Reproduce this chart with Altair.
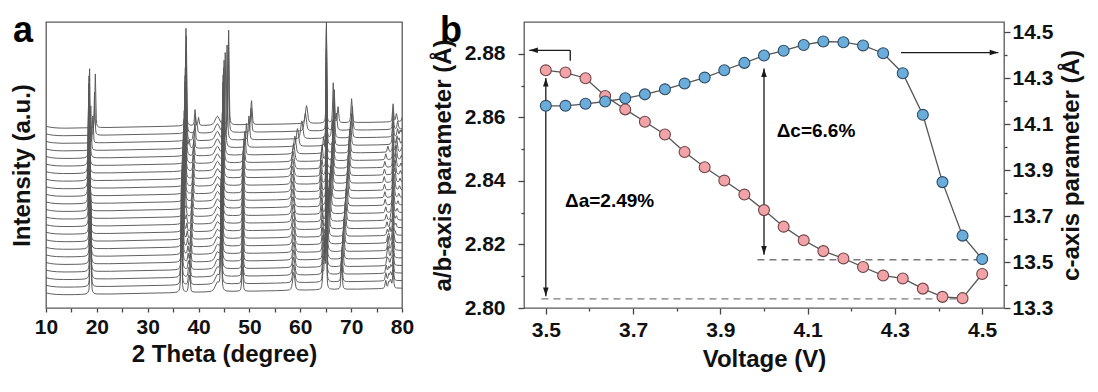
import numpy as np
import pandas as pd
import altair as alt

# ---------------- panel b : lattice parameters vs voltage ----------------
voltage = [3.500, 3.545, 3.591, 3.636, 3.682, 3.727, 3.773, 3.818, 3.864, 3.909, 3.955, 4.000,
           4.045, 4.091, 4.136, 4.182, 4.227, 4.273, 4.318, 4.364, 4.409, 4.455, 4.500]
a_param = [2.8748, 2.8741, 2.8723, 2.8667, 2.8625, 2.8586, 2.8546, 2.8491, 2.8443, 2.8401, 2.8357, 2.8308,
           2.8256, 2.8213, 2.8179, 2.8156, 2.8129, 2.8102, 2.8093, 2.8061, 2.8035, 2.8031, 2.8107]
c_param = [14.180, 14.180, 14.189, 14.199, 14.213, 14.230, 14.252, 14.277, 14.303, 14.335, 14.367, 14.399,
           14.420, 14.445, 14.460, 14.457, 14.443, 14.409, 14.322, 14.141, 13.848, 13.615, 13.513]

# annotations (data coordinates)
a_ref_x = [3.49, 4.455]
a_ref_y = 2.8029
c_ref_x = [3.985, 4.50]
c_ref_y = 13.510
a_span_x = 3.5
a_span_y = [2.8724, 2.8037]
c_span_x = 4.0
c_span_y = [14.343, 13.532]
a_ptr_x = [3.556, 3.462]
a_ptr_y = [2.8778, 2.8811]
c_ptr_x = [4.314, 4.537]
c_ptr_y = 14.412
a_label = ("\u0394a=2.49%", 3.544, 2.8337)
c_label = ("\u0394c=6.6%", 4.029, 14.071)

# tick values
xa_ticks = [10, 15, 20, 25, 30, 35, 40, 45, 50, 55, 60, 65, 70, 75, 80]
vx_ticks = [3.5, 3.6, 3.7, 3.8, 3.9, 4.0, 4.1, 4.2, 4.3, 4.4, 4.5]
ya_ticks = [2.80, 2.81, 2.82, 2.83, 2.84, 2.85, 2.86, 2.87, 2.88]
yc_ticks = [13.3, 13.4, 13.5, 13.6, 13.7, 13.8, 13.9, 14.0, 14.1, 14.2, 14.3, 14.4, 14.5]

# ---------------- panel a : stacked XRD patterns ----------------
wavelength = 1.5406
hkl_list = [(0, 0, 3), (1, 0, 1), (0, 0, 6), (0, 1, 2), (1, 0, 4), (0, 1, 5), (1, 0, 7),
            (0, 1, 8), (1, 1, 0), (1, 1, 3), (2, 0, 1), (1, 0, 10), (1, 1, 6), (2, 0, 2)]
hkl_height = [90, 98, 8, 16, 95, 24, 18, 16, 40, 24, 8, 6, 6, 4]
hkl_fwhm = [0.22, 0.20, 0.25, 0.25, 0.22, 0.30, 0.50, 0.30, 0.25, 0.30, 0.30, 0.30, 0.30, 0.30]
fixed_pos = [43.7, 65.13, 78.25]
fixed_height = [9, 105, 18]
fixed_fwhm = [1.0, 0.15, 0.25]
i003_scale = [1, 1, 1, 1, 1, 1, 1, 1, 1, 1, 1, 1, 1, 1, 1, 1, 1, 1, 1, 0.5, 0.3, 0.48, 0.6]
stack_step = 7.57
stack_base = 13.0


def pvoigt(x, x0, w):
    g = np.exp(-4 * np.log(2) * ((x - x0) / w) ** 2)
    lor = 1.0 / (1.0 + ((x - x0) / (w / 2)) ** 2)
    return 0.5 * g + 0.5 * lor


def rdp_keep(xp, yp, eps):
    n = len(xp)
    keep = np.zeros(n, bool)
    keep[0] = keep[-1] = True
    stack = [(0, n - 1)]
    while stack:
        s, e = stack.pop()
        if e <= s + 1:
            continue
        xs, ys = xp[s + 1:e], yp[s + 1:e]
        dx, dy = xp[e] - xp[s], yp[e] - yp[s]
        dist = np.abs(dy * (xs - xp[s]) - dx * (ys - yp[s])) / np.hypot(dx, dy)
        i = int(np.argmax(dist))
        if dist[i] > eps:
            m = s + 1 + i
            keep[m] = True
            stack.append((s, m))
            stack.append((m, e))
    return keep


tt = np.arange(10.0, 80.0001, 0.02)
frames = []
for k in range(len(voltage)):
    a, c = a_param[k], c_param[k]
    y = stack_base + stack_step * k + 0.1 * (tt - 13) + 2.5 * np.exp(-(tt - 10) / 1.5)
    for (h, kk, l), H, w in zip(hkl_list, hkl_height, hkl_fwhm):
        inv_d2 = 4.0 / 3.0 * (h * h + h * kk + kk * kk) / a ** 2 + l * l / c ** 2
        s = wavelength * np.sqrt(inv_d2) / 2
        if s >= 1:
            continue
        pos = 2 * np.degrees(np.arcsin(s))
        Hk = H * (i003_scale[k] if (h, kk, l) == (0, 0, 3) else 1)
        y = y + Hk * pvoigt(tt, pos, w)
    for p, H, w in zip(fixed_pos, fixed_height, fixed_fwhm):
        y = y + H * pvoigt(tt, p, w)
    keep = rdp_keep(tt * 5.086, y, 0.12)
    frames.append(pd.DataFrame({"tt": np.round(tt[keep], 3), "y": np.round(y[keep], 2), "k": k}))
xrd = pd.concat(frames, ignore_index=True)

FONT = "Liberation Sans"

panel_a_lines = alt.Chart(xrd).mark_line(color="#575757", strokeWidth=0.95, clip=True).encode(
    x=alt.X("tt:Q", scale=alt.Scale(domain=[10, 80], nice=False),
            axis=alt.Axis(values=xa_ticks, labelExpr="datum.value % 10 == 0 ? datum.label : ''",
                          tickSize=4, labelPadding=4, title="2 Theta (degree)", titlePadding=5)),
    y=alt.Y("y:Q", scale=alt.Scale(domain=[0, 286], nice=False),
            axis=alt.Axis(title="Intensity (a.u.)", labels=False, ticks=False, titlePadding=12)),
    detail="k:N",
)
label_a = alt.Chart(pd.DataFrame({"t": ["a"]})).mark_text(
    font=FONT, fontSize=36, fontWeight="bold", align="left", baseline="alphabetic", color="black"
).encode(text="t:N", x=alt.value(-33), y=alt.value(20))
panel_a = alt.layer(panel_a_lines, label_a).properties(width=356, height=286)

# ---------------- panel b layers ----------------
scaleX = alt.Scale(domain=[3.45, 4.55], nice=False)
axisX = alt.Axis(values=vx_ticks,
                 labelExpr="round(datum.value*10) % 2 == 1 ? format(datum.value, '.1f') : ''",
                 tickSize={"condition": {"test": "round(datum.value*10) % 2 == 1", "value": 6}, "value": 3},
                 labelPadding=5, title="Voltage (V)", titlePadding=7)
scaleA = alt.Scale(domain=[2.80, 2.89], nice=False, zero=False)
axisA = alt.Axis(values=ya_ticks, title="a/b-axis parameter (\u00c5)",
                 labelExpr="round(datum.value*100) % 2 == 0 ? format(datum.value, '.2f') : ''",
                 tickSize={"condition": {"test": "round(datum.value*100) % 2 == 0", "value": 6}, "value": 3},
                 labelPadding=13, titlePadding=9)
scaleC = alt.Scale(domain=[13.3, 14.545], nice=False, zero=False)
axisC = alt.Axis(values=yc_ticks, title="c-axis parameter (\u00c5)", orient="right",
                 labelExpr="round(datum.value*10) % 2 == 1 ? format(datum.value, '.1f') : ''",
                 tickSize={"condition": {"test": "round(datum.value*10) % 2 == 1", "value": 6}, "value": 3},
                 labelPadding=2, titlePadding=7, titleAngle=270, titleBaseline="top")

X = lambda f: alt.X(f, type="quantitative", scale=scaleX, axis=axisX)
YA = lambda f: alt.Y(f, type="quantitative", scale=scaleA, axis=axisA)
YC = lambda f: alt.Y(f, type="quantitative", scale=scaleC, axis=axisC)

dfb = pd.DataFrame({"V": voltage, "a": a_param, "c": c_param})

ARROW_PATHS = ["M0,0L0.32,1L-0.32,1Z", "M0,0L0.32,-1L-0.32,-1Z", "M0,0L1,0.32L1,-0.32Z", "M0,0L-1,0.32L-1,-0.32Z"]
ARROW_DIRS = ["up", "down", "left", "right"]
shape_enc = alt.Shape("dir:N", scale=alt.Scale(domain=ARROW_DIRS, range=ARROW_PATHS), legend=None)

ink = "#1a1a1a"
dash_col = "#7a7a7a"

# left-scale annotations
a_ref = alt.Chart(pd.DataFrame({"V": [a_ref_x[0]], "V2": [a_ref_x[1]], "y": [a_ref_y]})).mark_rule(
    color=dash_col, strokeWidth=1.3, strokeDash=[7, 5]).encode(x=X("V"), x2="V2", y=YA("y"))
a_span = alt.Chart(pd.DataFrame({"V": [a_span_x], "y": [a_span_y[0]], "y2": [a_span_y[1]]})).mark_rule(
    color=ink, strokeWidth=1.3).encode(x=X("V"), y=YA("y"), y2="y2")
a_ptr_v = alt.Chart(pd.DataFrame({"V": [a_ptr_x[0]], "y": [a_ptr_y[0]], "y2": [a_ptr_y[1]]})).mark_rule(
    color=ink, strokeWidth=1.3).encode(x=X("V"), y=YA("y"), y2="y2")
a_ptr_h = alt.Chart(pd.DataFrame({"V": [a_ptr_x[0]], "V2": [a_ptr_x[1]], "y": [a_ptr_y[1]]})).mark_rule(
    color=ink, strokeWidth=1.3).encode(x=X("V"), x2="V2", y=YA("y"))
a_heads = alt.Chart(pd.DataFrame({"V": [a_span_x, a_span_x, a_ptr_x[1]],
                                  "y": [a_span_y[0], a_span_y[1], a_ptr_y[1]],
                                  "dir": ["up", "down", "left"]})).mark_point(
    filled=True, color=ink, size=300, opacity=1).encode(x=X("V"), y=YA("y"), shape=shape_enc)
a_text = alt.Chart(pd.DataFrame({"t": [a_label[0]], "V": [a_label[1]], "y": [a_label[2]]})).mark_text(
    font=FONT, fontSize=19, fontWeight="bold", align="left", baseline="middle", color="black").encode(
    x=X("V"), y=YA("y"), text="t:N")
a_line = alt.Chart(dfb).mark_line(color="#555555", strokeWidth=1.3).encode(x=X("V"), y=YA("a"))
left_group = alt.layer(a_ref, a_span, a_ptr_v, a_ptr_h, a_heads, a_text, a_line)

# right-scale annotations
c_ref = alt.Chart(pd.DataFrame({"V": [c_ref_x[0]], "V2": [c_ref_x[1]], "y": [c_ref_y]})).mark_rule(
    color=dash_col, strokeWidth=1.3, strokeDash=[7, 5]).encode(x=X("V"), x2="V2", y=YC("y"))
c_span = alt.Chart(pd.DataFrame({"V": [c_span_x], "y": [c_span_y[0]], "y2": [c_span_y[1]]})).mark_rule(
    color=ink, strokeWidth=1.3).encode(x=X("V"), y=YC("y"), y2="y2")
c_ptr = alt.Chart(pd.DataFrame({"V": [c_ptr_x[0]], "V2": [c_ptr_x[1]], "y": [c_ptr_y]})).mark_rule(
    color=ink, strokeWidth=1.3).encode(x=X("V"), x2="V2", y=YC("y"))
c_heads = alt.Chart(pd.DataFrame({"V": [c_span_x, c_span_x, c_ptr_x[1]],
                                  "y": [c_span_y[0], c_span_y[1], c_ptr_y],
                                  "dir": ["up", "down", "right"]})).mark_point(
    filled=True, color=ink, size=300, opacity=1).encode(x=X("V"), y=YC("y"), shape=shape_enc)
c_text = alt.Chart(pd.DataFrame({"t": [c_label[0]], "V": [c_label[1]], "y": [c_label[2]]})).mark_text(
    font=FONT, fontSize=19, fontWeight="bold", align="left", baseline="middle", color="black").encode(
    x=X("V"), y=YC("y"), text="t:N")
c_line = alt.Chart(dfb).mark_line(color="#555555", strokeWidth=1.3).encode(x=X("V"), y=YC("c"))
right_group = alt.layer(c_ref, c_span, c_ptr, c_heads, c_text, c_line)

a_pts = alt.Chart(dfb).mark_point(filled=True, shape="circle", size=120, fill="#F2A3A8",
                                  stroke="#6e4446", strokeWidth=1.1, opacity=1).encode(
    x=X("V"), y=alt.Y("a:Q", scale=scaleA, axis=None))
c_pts = alt.Chart(dfb).mark_point(filled=True, shape="circle", size=120, fill="#6AADDB",
                                  stroke="#2d4a63", strokeWidth=1.1, opacity=1).encode(
    x=X("V"), y=alt.Y("c:Q", scale=scaleC, axis=None))

label_b = alt.Chart(pd.DataFrame({"t": ["b"]})).mark_text(
    font=FONT, fontSize=36, fontWeight="bold", align="left", baseline="alphabetic", color="black"
).encode(text="t:N", x=alt.value(-84), y=alt.value(20))

panel_b = alt.layer(left_group, right_group, a_pts, c_pts, label_b).resolve_scale(
    y="independent").properties(width=480, height=286)

chart = alt.hconcat(panel_a, panel_b, spacing=122, bounds="flush").configure_view(
    stroke="#5a5a5a", strokeWidth=1.3
).configure_axis(
    labelFont=FONT, labelFontSize=21, labelFontWeight="bold", labelColor="#111111",
    titleFont=FONT, titleFontSize=24, titleFontWeight="bold", titleColor="#111111",
    tickColor="#444444", tickWidth=1.3, domain=False, grid=False, labelFlush=False
).properties(padding={"left": 1, "top": 4, "right": 0, "bottom": 0})

chart.save("out.html", embed_options={"renderer": "svg", "actions": False})
